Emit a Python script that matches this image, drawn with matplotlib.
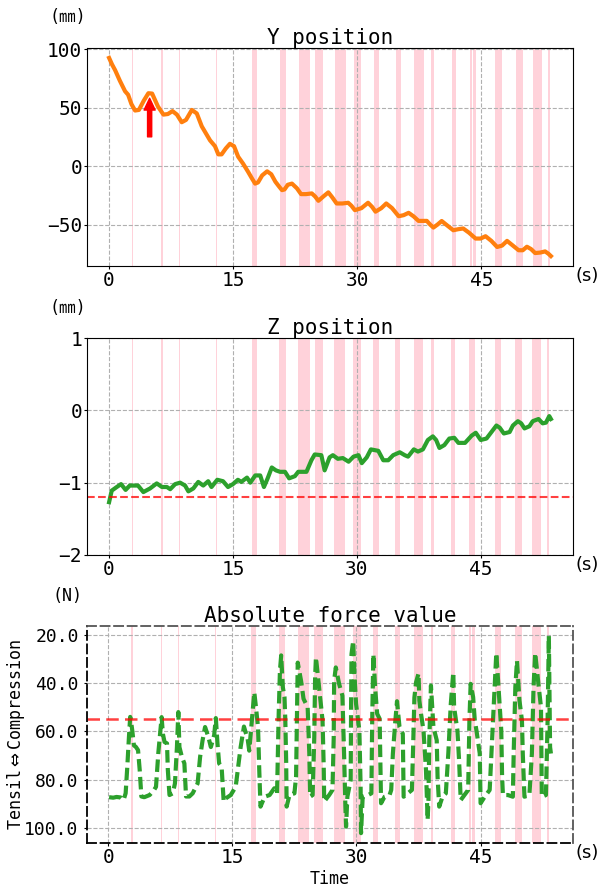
import numpy as np
import matplotlib
matplotlib.use("Agg")
import matplotlib.pyplot as plt

plt.rcParams['font.family'] = ['DejaVu Sans Mono', 'Noto Sans CJK JP']

# shaded intervals (s)
span_start = [2.78, 6.33, 8.42, 12.92, 17.26, 20.6, 22.9, 24.9, 27.26, 29.56, 31.98,
              34.68, 36.9, 38.95, 41.45, 43.6, 44.0, 46.7, 49.2, 51.25, 53.06]
span_end = [2.93, 6.48, 8.57, 13.07, 17.86, 21.4, 24.3, 25.9, 28.6, 30.5, 32.66,
            35.24, 38.06, 39.3, 41.9, 43.9, 44.35, 47.5, 50.04, 52.3, 53.25]

# Y position (mm)
y_time = [0, 0.35, 0.73, 1.3, 1.93, 2.3, 2.7, 3.14, 3.6, 4.2,
          4.75, 5.2, 5.9, 6.57, 7.1, 7.66, 8.2, 8.78, 9.3, 10.0,
          10.6, 11.2, 12.2, 12.8, 13.2, 13.6, 14.1, 14.6, 15.1, 15.6,
          16.2, 16.8, 17.3, 17.65, 18.0, 18.5, 19.1, 19.6, 20.1, 20.6,
          20.9, 21.2, 21.6, 22.1, 22.7, 23.2, 23.8, 24.5, 24.9, 25.3,
          25.9, 26.5, 27.0, 27.5, 28.2, 28.9, 29.3, 29.7, 30.5, 31.3,
          31.8, 32.2, 32.9, 33.5, 34.2, 35.0, 35.6, 36.2, 36.8, 37.4,
          38.4, 38.8, 39.2, 39.7, 40.2, 40.9, 41.6, 42.2, 42.8, 43.5,
          44.3, 44.9, 45.5, 46.2, 46.9, 47.5, 48.1, 48.8, 49.5, 50.0,
          50.5, 51.0, 51.5, 52.1, 52.7, 53.1, 53.4]
y_pos = [92.5, 87, 82, 73, 64, 61, 53, 47.5, 48, 56,
         62.3, 62, 51, 44, 44.5, 47, 44, 37.5, 39.5, 48,
         45, 34, 22, 17, 10, 10, 15, 19, 17, 8,
         2, -4.9, -11, -15, -14, -8, -4.5, -7, -13.4, -18,
         -20.6, -20, -16, -15, -19, -24, -24, -23.4, -26, -29.7,
         -26, -22.5, -27, -32, -32, -31.4, -34, -37.7, -36, -31.4,
         -35, -39, -36, -32, -36, -42.9, -42, -40, -43, -46.9,
         -46.9, -50, -52.6, -50, -47, -51, -54.9, -54, -53.4, -57,
         -62, -62, -60, -64, -69.2, -68, -64, -68, -72, -72,
         -69, -71, -74.4, -74, -73, -75, -77]

# Z position (mm)
z_time = [0, 0.32, 0.93, 1.45, 2.0, 2.5, 3.5, 4.15, 4.96, 5.77,
          6.4, 7.0, 7.4, 8.0, 8.6, 9.2, 9.6, 10.2, 10.8, 11.4,
          12.0, 12.4, 13.1, 13.8, 14.4, 15.0, 15.6, 16.0, 16.7, 17.1,
          17.7, 18.3, 18.75, 19.2, 19.7, 20.2, 20.7, 21.3, 21.8, 22.5,
          22.9, 23.9, 24.5, 24.9, 25.7, 26.1, 26.7, 27.1, 27.7, 28.3,
          29.0, 29.6, 30.2, 30.6, 31.2, 31.7, 32.6, 33.2, 33.8, 34.4,
          35.2, 35.8, 36.2, 36.9, 37.4, 38.0, 38.6, 39.2, 39.6, 40.0,
          40.6, 41.2, 41.8, 42.3, 43.1, 43.9, 44.4, 45.0, 45.7, 46.3,
          46.9, 47.3, 47.8, 48.5, 48.9, 49.5, 49.9, 50.3, 50.9, 51.3,
          52.0, 52.5, 52.9, 53.3, 53.5]
z_pos = [-1.27, -1.11, -1.06, -1.02, -1.10, -1.04, -1.04, -1.13, -1.08, -1.01,
         -1.06, -1.06, -1.09, -1.02, -1.00, -1.04, -1.12, -1.08, -0.99, -1.04,
         -0.98, -1.06, -0.96, -0.98, -1.06, -1.02, -0.96, -0.99, -0.93, -1.00,
         -0.90, -0.90, -1.06, -0.94, -0.79, -0.83, -0.85, -0.85, -0.94, -0.91,
         -0.85, -0.85, -0.69, -0.61, -0.62, -0.83, -0.65, -0.62, -0.67, -0.66,
         -0.71, -0.64, -0.62, -0.73, -0.65, -0.54, -0.56, -0.69, -0.69, -0.62,
         -0.58, -0.62, -0.64, -0.54, -0.57, -0.54, -0.41, -0.36, -0.41, -0.52,
         -0.48, -0.39, -0.38, -0.45, -0.45, -0.35, -0.31, -0.41, -0.39, -0.30,
         -0.21, -0.24, -0.32, -0.30, -0.21, -0.15, -0.18, -0.25, -0.22, -0.15,
         -0.12, -0.18, -0.17, -0.08, -0.12]
z_ref = -1.2

# Absolute force (N)
f_time = [0.1, 0.6, 1.0, 1.5, 1.85, 2.1, 2.3, 2.5, 2.65, 2.74,
          2.9, 3.1, 3.35, 3.6, 3.8, 4.0, 4.35, 5.0, 5.5, 5.77,
          6.05, 6.3, 6.45, 6.6, 6.8, 7.1, 7.2, 7.4, 7.8, 8.06,
          8.3, 8.47, 8.6, 8.9, 9.2, 9.4, 9.8, 10.2, 10.8, 11.1,
          11.4, 11.7, 12.1, 12.4, 12.8, 13.0, 13.2, 13.4, 13.7, 13.95,
          14.2, 14.8, 15.4, 15.7, 16.0, 16.4, 16.65, 16.84, 17.04, 17.25,
          17.45, 17.65, 17.85, 18.1, 18.25, 18.4, 18.9, 19.5, 20.07, 20.4,
          20.5, 20.6, 20.75, 20.9, 21.1, 21.3, 21.4, 21.5, 21.56, 21.9,
          22.5, 22.7, 22.8, 22.9, 23.3, 23.6, 24.1, 24.3, 24.4, 24.7,
          24.9, 25.0, 25.1, 25.4, 25.6, 25.9, 26.04, 26.1, 26.7, 27.1,
          27.25, 27.3, 27.5, 27.9, 28.3, 28.5, 28.66, 28.74, 28.9, 29.3,
          29.35, 29.4, 29.6, 29.75, 29.95, 30.35, 30.5, 30.55, 30.75, 31.4,
          31.8, 31.9, 32.04, 32.25, 32.5, 32.8, 32.97, 33.4, 34.0, 34.2,
          34.4, 34.7, 34.9, 35.2, 35.6, 35.7, 36.2, 36.7, 36.85, 37.0,
          37.2, 37.5, 37.6, 37.8, 38.1, 38.4, 38.6, 38.7, 38.8, 39.0,
          39.3, 39.7, 39.8, 40.0, 40.4, 40.8, 41.1, 41.4, 41.7, 41.8,
          42.2, 42.4, 42.6, 43.05, 43.5, 43.65, 43.8, 44.1, 44.3, 44.5,
          44.9, 45.0, 45.5, 46.1, 46.4, 46.6, 46.9, 47.3, 47.5, 47.6,
          47.7, 48.3, 48.9, 49.0, 49.2, 49.4, 49.7, 50.0, 50.1, 50.3,
          50.9, 51.2, 51.4, 51.6, 51.99, 52.3, 52.4, 52.9, 53.1, 53.25,
          53.4, 53.5]
f_val = [87.3, 87.5, 87.2, 87.4, 88.5, 85.7, 74.7, 62.3, 54.0, 55.5,
         59.6, 65.8, 66.5, 67.8, 76.0, 87.0, 87.3, 86.4, 84.5, 83.0,
         69.0, 59.6, 54.1, 61.0, 64.4, 65.0, 76.0, 86.4, 85.7, 81.6,
         66.5, 52.0, 66.5, 70.6, 73.3, 87.0, 87.0, 85.7, 81.6, 70.6,
         63.7, 58.2, 62.3, 66.5, 61.6, 54.5, 65.0, 73.3, 74.7, 89.1,
         87.8, 86.4, 83.0, 74.7, 66.5, 58.0, 61.0, 63.0, 68.0, 59.6,
         51.3, 43.8, 50.0, 58.2, 76.0, 91.2, 87.1, 86.4, 83.6, 85.7,
         69.2, 52.7, 34.8, 28.5, 41.7, 45.8, 55.5, 72.0, 91.2, 86.4,
         85.7, 78.8, 55.5, 31.5, 39.0, 46.5, 50.0, 69.2, 87.1, 86.4,
         62.3, 37.6, 29.3, 39.0, 45.2, 55.5, 74.7, 89.1, 86.4, 84.3,
         62.3, 39.0, 33.5, 40.3, 45.2, 69.2, 91.2, 99.5, 87.1, 80.2,
         48.6, 28.0, 22.5, 36.2, 48.6, 59.6, 83.0, 102.2, 87.1, 86.4,
         85.7, 55.5, 28.0, 41.7, 52.7, 54.8, 89.8, 87.1, 86.4, 84.3,
         69.2, 55.5, 47.5, 58.2, 61.0, 87.1, 85.7, 84.3, 66.0, 46.0,
         39.7, 36.0, 47.2, 52.7, 59.6, 76.0, 96.7, 88.5, 63.7, 41.0,
         58.2, 63.7, 78.8, 91.2, 87.1, 85.7, 69.2, 48.6, 35.5, 50.0,
         59.6, 72.0, 88.5, 86.4, 84.3, 55.5, 40.3, 45.8, 55.5, 59.6,
         69.2, 89.8, 87.1, 84.3, 62.3, 48.6, 27.5, 48.6, 59.6, 78.8,
         86.4, 86.4, 87.1, 69.2, 41.7, 30.7, 47.2, 55.5, 69.2, 87.1,
         86.4, 69.2, 41.7, 27.5, 40.3, 50.0, 87.1, 86.4, 55.5, 20.4,
         66.5, 69.2]
f_ref = 55

# red arrow marker on the Y plot
arrow_t = 4.9
arrow_from = 25
arrow_to = 58

x_ticks = [0, 15, 30, 45]

fig = plt.figure(figsize=(5.98, 8.88), dpi=100)
left, width = 87 / 598, 486 / 598
ax1 = fig.add_axes([left, 1 - 266 / 888, width, 218 / 888])
ax2 = fig.add_axes([left, 1 - 555 / 888, width, 217 / 888])
ax3 = fig.add_axes([left, 1 - 843 / 888, width, 217 / 888])

for ax in (ax1, ax2, ax3):
    for s, e in zip(span_start, span_end):
        ax.axvspan(s, e, color='pink', alpha=0.7, lw=0, zorder=0.5)
    ax.grid(True, linestyle='--', color='#b0b0b0', linewidth=0.8)
    ax.set_xticks(x_ticks)
    ax.tick_params(labelsize=14, length=2, pad=1.5)
    ax.text(1.006, -0.005, '(s)', transform=ax.transAxes, ha='left', va='top',
            fontsize=13, family='DejaVu Sans')

ax1.plot(y_time, y_pos, color='#ff7f0e', lw=3)
ax1.annotate('', xy=(arrow_t, arrow_to), xytext=(arrow_t, arrow_from),
             arrowprops=dict(color='red', width=3, headwidth=8, headlength=8.5, shrink=0))
ax1.set_yticks([100, 50, 0, -50])
ax1.set_title('Y position', fontsize=15, pad=3)
ax1.text(-0.04, 1.14, '(㎜)', transform=ax1.transAxes, ha='center', va='center', fontsize=12)

ax2.plot(z_time, z_pos, color='#2ca02c', lw=3)
ax2.axhline(z_ref, color='red', alpha=0.75, linestyle='--', lw=1.5)
ax2.set_ylim(-2, 1)
ax2.set_yticks([1, 0, -1, -2])
ax2.set_title('Z position', fontsize=15, pad=3)
ax2.text(-0.04, 1.14, '(㎜)', transform=ax2.transAxes, ha='center', va='center', fontsize=12)

ax3.plot(f_time, f_val, color='#2ca02c', lw=3, linestyle=(0, (3, 1.3)))
ax3.axhline(f_ref, color='red', alpha=0.75, linestyle=(0, (5, 2.5)), lw=1.8)
ax3.invert_yaxis()
ax3.set_yticks([20, 40, 60, 80, 100])
ax3.set_yticklabels(['%.1f' % v for v in [20, 40, 60, 80, 100]])
ax3.tick_params(axis='y', labelsize=13, pad=4)
ax3.set_title('Absolute force value', fontsize=15, pad=3)
ax3.text(-0.04, 1.14, '(N)', transform=ax3.transAxes, ha='center', va='center', fontsize=12)
ax3.set_xlabel('Time', fontsize=12, labelpad=2)
ax3.set_ylabel(r'Tensil$\Leftrightarrow$Compression', fontsize=12)
ax3.yaxis.set_label_coords(-0.123, 0.5)
for side in ['left', 'bottom']:
    ax3.spines[side].set_linestyle((0, (5, 2.5)))
    ax3.spines[side].set_linewidth(1.3)
for side in ['top', 'right']:
    ax3.spines[side].set_linestyle((0, (5, 2.5)))
    ax3.spines[side].set_linewidth(1.3)
    ax3.spines[side].set_color('#555555')

fig.savefig('out.png', dpi=100)
